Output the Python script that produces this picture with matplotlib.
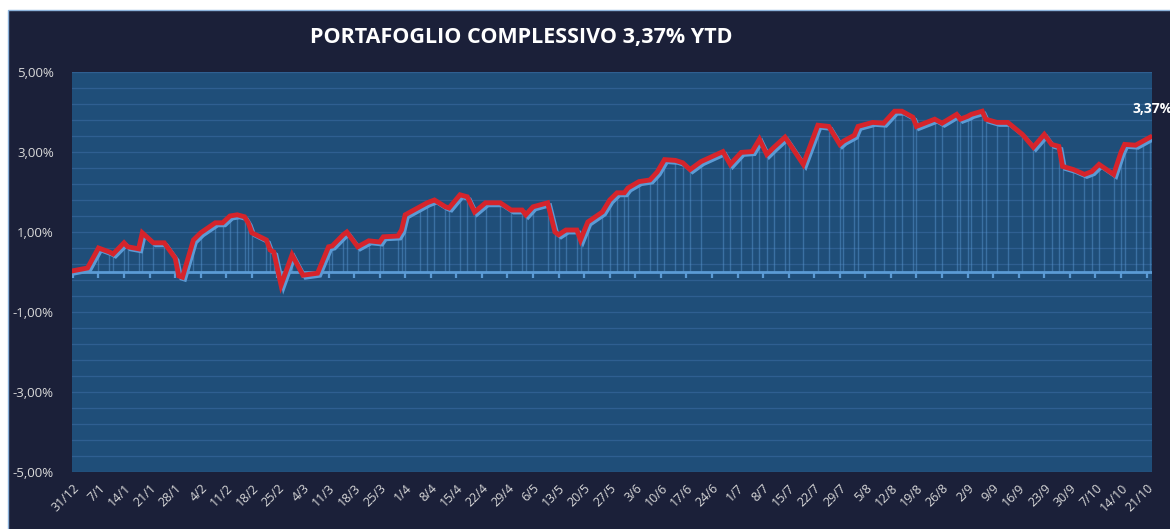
#!/usr/bin/env python3
"""Portfolio YTD performance chart (dark Excel style)."""

from __future__ import annotations

import matplotlib

matplotlib.use("Agg")

import matplotlib.pyplot as plt
import matplotlib.transforms as mtransforms
import numpy as np
import pandas as pd
from matplotlib.patches import Rectangle

TITLE = "PORTAFOGLIO COMPLESSIVO 3,37% YTD"
END_LABEL = "3,37%"

dates = [
    "2018-12-31", "2019-01-04", "2019-01-07", "2019-01-10", "2019-01-11", "2019-01-14",
    "2019-01-15", "2019-01-18", "2019-01-19", "2019-01-22", "2019-01-25", "2019-01-28",
    "2019-01-29", "2019-01-30", "2019-02-02", "2019-02-04", "2019-02-08", "2019-02-10",
    "2019-02-12", "2019-02-14", "2019-02-16", "2019-02-17", "2019-02-18", "2019-02-22",
    "2019-02-23", "2019-02-24", "2019-02-26", "2019-03-01", "2019-03-04", "2019-03-08",
    "2019-03-11", "2019-03-12", "2019-03-15", "2019-03-16", "2019-03-19", "2019-03-22",
    "2019-03-25", "2019-03-26", "2019-03-30", "2019-03-31", "2019-04-01", "2019-04-05",
    "2019-04-07", "2019-04-09", "2019-04-12", "2019-04-13", "2019-04-16", "2019-04-18",
    "2019-04-20", "2019-04-23", "2019-04-27", "2019-04-30", "2019-05-03", "2019-05-04",
    "2019-05-06", "2019-05-10", "2019-05-12", "2019-05-13", "2019-05-15", "2019-05-18",
    "2019-05-19", "2019-05-21", "2019-05-25", "2019-05-27", "2019-05-29", "2019-05-31",
    "2019-06-01", "2019-06-04", "2019-06-07", "2019-06-09", "2019-06-11", "2019-06-14",
    "2019-06-16", "2019-06-18", "2019-06-21", "2019-06-27", "2019-06-29", "2019-07-02",
    "2019-07-05", "2019-07-07", "2019-07-09", "2019-07-11", "2019-07-14", "2019-07-15",
    "2019-07-19", "2019-07-23", "2019-07-26", "2019-07-29", "2019-07-30", "2019-08-02",
    "2019-08-03", "2019-08-07", "2019-08-10", "2019-08-13", "2019-08-15", "2019-08-18",
    "2019-08-19", "2019-08-24", "2019-08-26", "2019-08-30", "2019-08-31", "2019-09-02",
    "2019-09-03", "2019-09-06", "2019-09-07", "2019-09-10", "2019-09-13", "2019-09-17",
    "2019-09-20", "2019-09-23", "2019-09-25", "2019-09-27", "2019-09-28", "2019-10-01",
    "2019-10-04", "2019-10-06", "2019-10-08", "2019-10-12", "2019-10-14", "2019-10-15",
    "2019-10-18", "2019-10-20", "2019-10-22",
]

returns_pct = [
    0.03, 0.10, 0.60, 0.50, 0.45, 0.73,
    0.63, 0.58, 0.98, 0.73, 0.73, 0.35,
    -0.10, -0.13, 0.80, 0.98, 1.23, 1.23,
    1.40, 1.43, 1.38, 1.23, 0.98, 0.80,
    0.55, 0.50, -0.33, 0.43, -0.08, -0.03,
    0.63, 0.65, 0.93, 1.00, 0.63, 0.78,
    0.75, 0.88, 0.90, 1.05, 1.43, 1.63,
    1.73, 1.80, 1.63, 1.60, 1.93, 1.88,
    1.50, 1.73, 1.73, 1.55, 1.55, 1.43,
    1.63, 1.73, 1.00, 0.93, 1.05, 1.05,
    0.80, 1.25, 1.50, 1.80, 1.98, 1.98,
    2.10, 2.26, 2.30, 2.50, 2.81, 2.79,
    2.73, 2.56, 2.76, 3.01, 2.69, 2.99,
    3.01, 3.32, 2.94, 3.12, 3.37, 3.24,
    2.69, 3.67, 3.64, 3.19, 3.27, 3.42,
    3.64, 3.74, 3.72, 4.02, 4.02, 3.87,
    3.64, 3.82, 3.72, 3.94, 3.82, 3.89,
    3.94, 4.02, 3.82, 3.74, 3.74, 3.44,
    3.12, 3.44, 3.19, 3.14, 2.64, 2.56,
    2.44, 2.51, 2.69, 2.44, 2.99, 3.19,
    3.17, 3.27, 3.37,
]

y_ticks = [-5, -3, -1, 1, 3, 5]

BG = "#1b2039"
PLOT_BG = "#1f4e79"
GRID = "#2f5f91"
LIGHT_BLUE = "#5b9bd5"
RED = "#d5242b"
TEXT = "#d9d9d9"
FONT = "Open Sans"


def pct_label(v: float) -> str:
    return f"{v:.2f}%".replace(".", ",")


def main() -> int:
    x = pd.to_datetime(dates)
    y = np.array(returns_pct)

    fig = plt.figure(figsize=(11.70, 5.29), dpi=100, facecolor="white")
    fig.patches.append(
        Rectangle((8 / 1170, -0.05), 1.1, 0.05 + (529 - 10) / 529, transform=fig.transFigure,
                  facecolor=BG, edgecolor="#8db3dc", linewidth=1.0, zorder=-10)
    )

    ax = fig.add_axes([72 / 1170, (529 - 472) / 529, (1152 - 72) / 1170, 400 / 529])
    ax.set_facecolor(PLOT_BG)
    for spine in ax.spines.values():
        spine.set_visible(False)

    ax.set_ylim(-5, 5)
    ax.set_xlim(x[0] - pd.Timedelta(hours=6), x[-1] + pd.Timedelta(hours=12))

    # minor-style gridlines every 0.4%
    for gy in np.arange(-5, 5.01, 0.4):
        ax.axhline(gy, color=GRID, lw=0.9, zorder=1)

    # drop lines and zero axis
    ax.vlines(x, 0, y, color=LIGHT_BLUE, alpha=0.45, lw=1.0, zorder=2)
    ax.axhline(0, color=LIGHT_BLUE, lw=2.0, zorder=3)

    week_ticks = pd.date_range(x[0], "2019-10-21", freq="7D")
    ax.plot(week_ticks, np.zeros(len(week_ticks)), linestyle="none", marker=3,
            markersize=4, markeredgewidth=1.6, color=LIGHT_BLUE, zorder=3)

    shadow = mtransforms.offset_copy(ax.transData, fig=fig, x=2.5, y=-2.5, units="dots")
    ax.plot(x, y, color=LIGHT_BLUE, lw=2.8, transform=shadow, zorder=4,
            solid_joinstyle="miter")
    ax.plot(x, y, color=RED, lw=3.5, zorder=5, solid_joinstyle="miter")

    ax.annotate(END_LABEL, (x[-1], y[-1]), xytext=(-18, 28), textcoords="offset pixels",
                ha="left", va="center", color="white", fontsize=10, fontweight="bold",
                family=FONT, annotation_clip=False)

    ax.set_yticks(y_ticks)
    ax.set_yticklabels([pct_label(v) for v in y_ticks])
    ax.set_xticks(week_ticks)
    ax.set_xticklabels([f"{d.day}/{d.month}" for d in week_ticks])
    ax.tick_params(axis="y", length=0, colors=TEXT, labelsize=9.5, pad=13)
    ax.tick_params(axis="x", length=0, colors=TEXT, labelsize=9, pad=7)
    for lbl in ax.get_yticklabels():
        lbl.set_family(FONT)
    for lbl in ax.get_xticklabels():
        lbl.set_family(FONT)
        lbl.set_rotation(45)
        lbl.set_ha("right")
        lbl.set_rotation_mode("anchor")

    fig.text(521 / 1170, 1 - 37 / 529, TITLE, ha="center", va="center", color="white",
             fontsize=15.5, fontweight="bold", family=FONT)

    fig.savefig("out.png", dpi=100, facecolor=fig.get_facecolor())
    plt.close(fig)
    return 0


if __name__ == "__main__":
    raise SystemExit(main())
